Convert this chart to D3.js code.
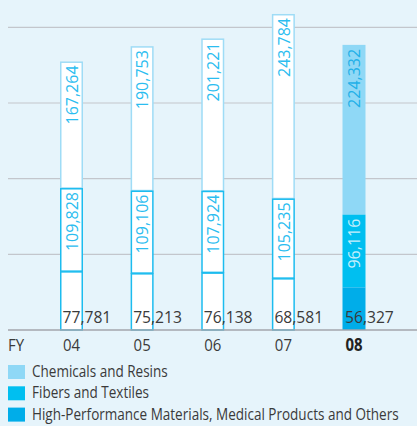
<!DOCTYPE html>
<html><head><meta charset="utf-8">
<script src="https://cdn.jsdelivr.net/npm/d3@7"></script>
<style>
html,body{margin:0;padding:0;background:#e6f4fb;}
svg{display:block;}
text{font-family:"Open Sans",sans-serif;}
</style></head>
<body>
<svg id="c" width="417" height="426"></svg>
<script>
const years = ["04","05","06","07","08"];
const highPerf = [77781,75213,76138,68581,56327];
const fibers = [109828,109106,107924,105235,96116];
const chemicals = [167264,190753,201221,243784,224332];
const gridTicks = [100000,200000,300000,400000];
const seriesNames = ["Chemicals and Resins","Fibers and Textiles","High-Performance Materials, Medical Products and Others"];

const colors = {chem:"#8fd8f6", fib:"#00bff0", high:"#00ade9"};
const svg = d3.select("#c");
svg.append("rect").attr("width",417).attr("height",426).attr("fill","#e6f4fb");

const y = d3.scaleLinear().domain([0,400000]).range([330,27.3]);
const x = d3.scalePoint().domain(years).range([71.5,354]);
const bw = 23;
const fmt = d3.format(",");

// text placed at (px,py) and condensed horizontally by factor f
function ctext(parent, px, py, f){
  return parent.append("text").attr("transform",`translate(${px},${py}) scale(${f},1)`);
}

// gridlines
svg.append("g").selectAll("line").data(gridTicks).join("line")
  .attr("x1",8).attr("x2",417).attr("y1",d=>y(d)).attr("y2",d=>y(d))
  .attr("stroke","#c3c6cc").attr("stroke-width",1.2);

const data = years.map((yr,i)=>({year:yr, high:highPerf[i], fib:fibers[i], chem:chemicals[i]}));
const stack = d3.stack().keys(["high","fib","chem"])(data);
const [sHigh, sFib, sChem] = stack;

const g = svg.append("g");
data.forEach((d,i)=>{
  const cx = x(d.year), left = cx - bw/2;
  const last = i === data.length-1;
  const segs = [
    {s:sChem[i], key:"chem"},
    {s:sFib[i], key:"fib"},
    {s:sHigh[i], key:"high"}
  ];
  segs.forEach(({s,key})=>{
    const top = y(s[1]), bot = y(s[0]);
    if (last) {
      g.append("rect").attr("x",left).attr("y",top).attr("width",bw).attr("height",bot-top)
        .attr("fill",colors[key]);
    } else {
      g.append("rect").attr("x",left+0.75).attr("y",top+0.75).attr("width",bw-1.5).attr("height",bot-top-0.75)
        .attr("fill","#fff")
        .attr("stroke", key==="chem" ? "#9fdcf6" : "#1cbcef").attr("stroke-width",1.5);
    }
  });
  [{s:sChem[i], v:d.chem, c: last ? "#22b0e8" : "#2bbdf0"},
   {s:sFib[i], v:d.fib, c: last ? "#c6effc" : "#2bbdf0"}].forEach(o=>{
    g.append("text")
      .attr("transform",`translate(${cx+0.5},${y(o.s[1])+4}) rotate(-90)`)
      .attr("text-anchor","end").attr("dy","0.36em")
      .attr("font-size",16).attr("fill",o.c)
      .text(fmt(o.v));
  });
  ctext(g, left+2.5, 322.5, 0.95)
    .attr("font-size",16.5).attr("fill","#3a3a3a").text(fmt(d.high));
});

// baseline
svg.append("line").attr("x1",8).attr("x2",417).attr("y1",330).attr("y2",330)
  .attr("stroke","#a3a6ac").attr("stroke-width",1.6);

// x axis labels
ctext(svg, 8, 351, 0.88).attr("font-size",17).attr("fill","#3a3a3a").text("FY");
const xl = svg.append("g");
years.forEach((yr,i)=>{
  const last = i===years.length-1;
  ctext(xl, x(yr), 351, 0.88).attr("text-anchor","middle")
    .attr("font-size",17).attr("fill",last?"#222":"#3a3a3a")
    .attr("font-weight",last?"bold":"normal").text(yr);
});

// legend
const legColors = [colors.chem, colors.fib, colors.high];
const lg = svg.append("g");
seriesNames.forEach((n,i)=>{
  const by = 377 + i*21.3;
  lg.append("rect").attr("x",8).attr("y",by-12).attr("width",17).attr("height",14).attr("fill",legColors[i]);
  ctext(lg, 32, by, 0.835).attr("font-size",16.2).attr("fill","#3a3a3a").text(n);
});
</script>
</body></html>
